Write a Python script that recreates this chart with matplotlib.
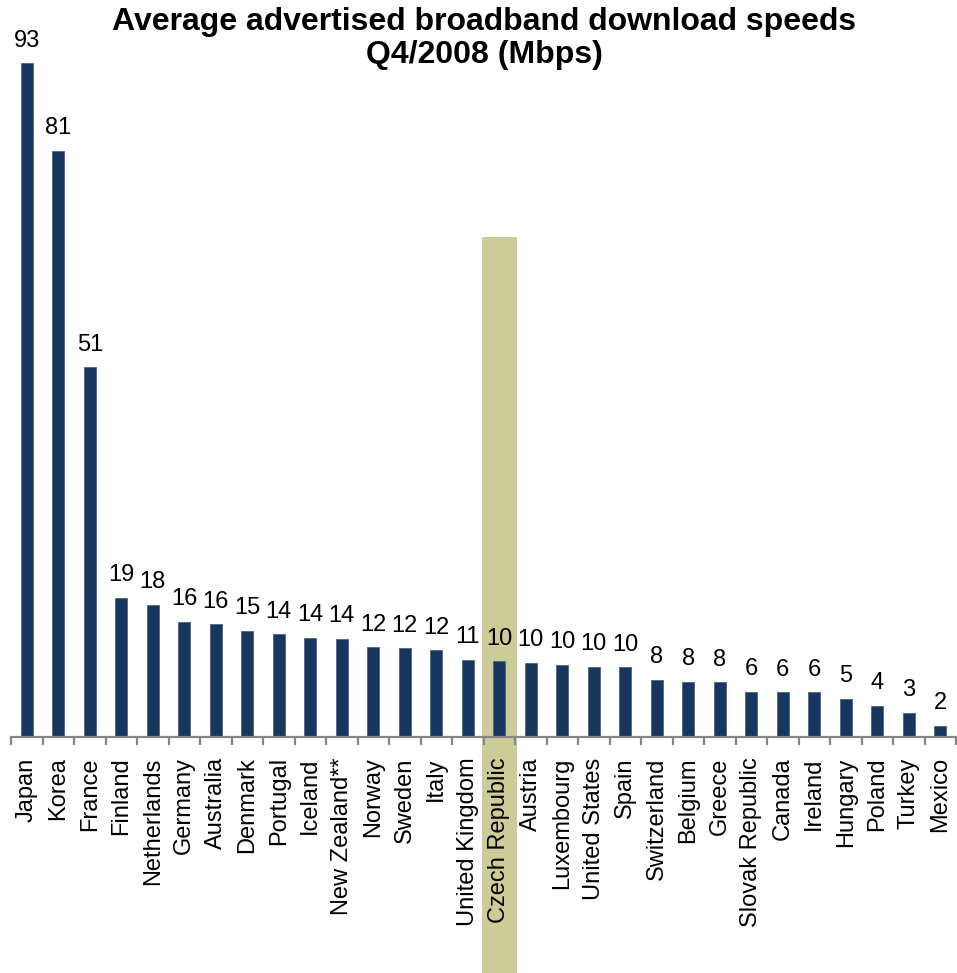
import matplotlib
matplotlib.use("Agg")
import matplotlib.pyplot as plt
import numpy as np

plt.rcParams['font.family'] = ['Liberation Sans', 'DejaVu Sans']

countries = [
    "Japan", "Korea", "France", "Finland", "Netherlands", "Germany",
    "Australia", "Denmark", "Portugal", "Iceland", "New Zealand**", "Norway",
    "Sweden", "Italy", "United Kingdom", "Czech Republic", "Austria",
    "Luxembourg", "United States", "Spain", "Switzerland", "Belgium",
    "Greece", "Slovak Republic", "Canada", "Ireland", "Hungary", "Poland",
    "Turkey", "Mexico",
]
speeds_mbps = [
    93.0, 80.9, 51.0, 19.2, 18.2, 15.8,
    15.5, 14.6, 14.1, 13.6, 13.5, 12.3,
    12.2, 11.9, 10.6, 10.4, 10.2,
    9.9, 9.6, 9.55, 7.8, 7.55,
    7.5, 6.2, 6.1, 6.1, 5.25, 4.2,
    3.3, 1.5,
]
highlight_country = "Czech Republic"
highlight_top = 69.0

title = "Average advertised broadband download speeds\nQ4/2008 (Mbps)"

bar_color = "#17375E"
band_color = "#CCCC99"
axis_color = "#868686"

fig = plt.figure(figsize=(9.57, 9.73), dpi=100)
ax = fig.add_axes([11 / 957, 1 - 736.5 / 973, 945 / 957, 723.7 / 973])

x = np.arange(len(countries))

# highlight band behind the selected country, running down through its label
hi = countries.index(highlight_country)
ax.bar(hi, highlight_top + 33, bottom=-33, width=1.12, color=band_color,
       zorder=0, clip_on=False)

ax.bar(x, speeds_mbps, width=0.38, color=bar_color, edgecolor="#4A6488",
       linewidth=0.6, zorder=2)

for xi, v in zip(x, speeds_mbps):
    ax.annotate(f"{v:.0f}", (xi, v), xytext=(0, 12), textcoords="offset points",
                ha="center", va="baseline", fontsize=17, color="black")

ax.set_xlim(-0.5, len(countries) - 0.5)
ax.set_ylim(0, 100)

for side in ("left", "right", "top"):
    ax.spines[side].set_visible(False)
ax.spines["bottom"].set_color(axis_color)
ax.spines["bottom"].set_linewidth(1.6)
ax.spines["bottom"].set_zorder(3)

ax.set_yticks([])
ax.set_xticks(x)
ax.set_xticklabels(countries, rotation=90, fontsize=17)
ax.tick_params(axis="x", which="major", length=0, pad=15)
ax.set_xticks(np.arange(-0.5, len(countries)), minor=True)
ax.tick_params(axis="x", which="minor", length=6, width=1.6, color=axis_color)

fig.text(484.5 / 957, 1 - 7 / 973, title, ha="center", va="top",
         fontsize=23, fontweight="bold", linespacing=1.15)

fig.savefig("out.png", dpi=100)
